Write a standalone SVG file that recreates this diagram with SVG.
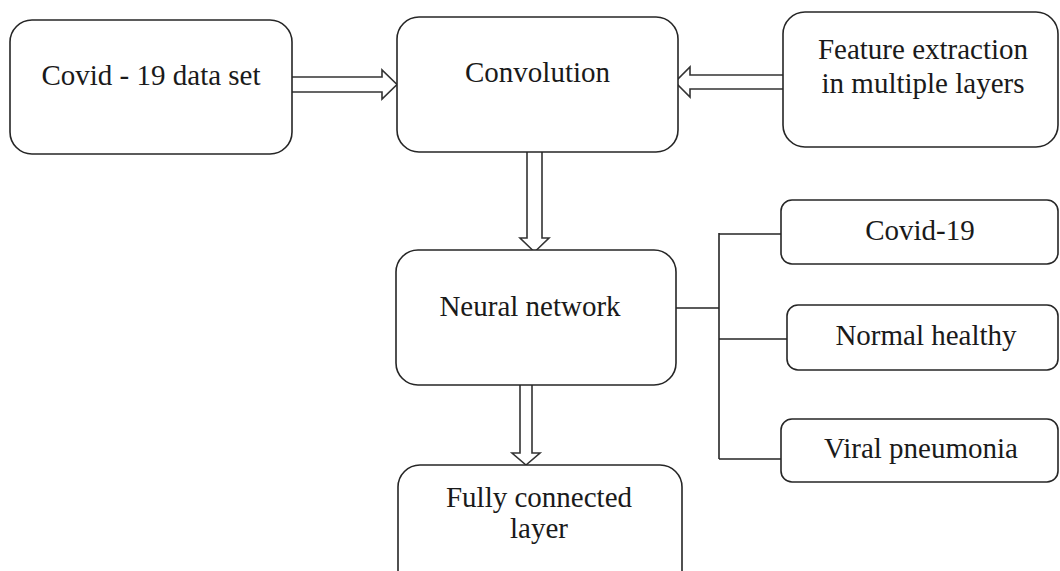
<svg xmlns="http://www.w3.org/2000/svg" width="1060" height="571" viewBox="0 0 1060 571">
<style>
.box{fill:#fff;stroke:#262626;stroke-width:1.6}
.lbl{font-family:'Liberation Serif','Times New Roman',serif;font-size:29px;fill:#1a1a1a;text-anchor:middle}
.blk{fill:#fff;stroke:#333;stroke-width:1.6;stroke-linejoin:miter}
.ln{fill:none;stroke:#262626;stroke-width:1.6}
</style>
<rect width="1060" height="571" fill="#fff"/>
<g id="connectors">
<path class="blk" d="M292,77 H382 V70 L397,84.5 L382,99 V92 H292"/>
<path class="blk" d="M783,75 H690 V67 L675,82 L690,97 V89 H783"/>
<path class="blk" d="M527,152 V238 H520 L534.5,252 L549,238 H542 V152"/>
<path class="blk" d="M520,385 V453 H512 L526,465 L540,453 H532 V385"/>
<path class="ln" d="M676,308 H719 M719,233 V459 M719,234 H781 M719,339 H787 M719,459 H781"/>
</g>
<g id="n-dataset">
<rect class="box" x="10" y="20" width="282" height="134" rx="22"/>
<text class="lbl" x="151" y="85">Covid - 19 data set</text>
</g>
<g id="n-convolution">
<rect class="box" x="397" y="17" width="281" height="135" rx="22"/>
<text class="lbl" x="537.5" y="82">Convolution</text>
</g>
<g id="n-feature">
<rect class="box" x="783" y="12" width="275" height="135" rx="22"/>
<text class="lbl" x="923" y="59">Feature extraction</text>
<text class="lbl" x="923" y="93">in multiple layers</text>
</g>
<g id="n-neural">
<rect class="box" x="396" y="250" width="280" height="135" rx="22"/>
<text class="lbl" x="530" y="316">Neural network</text>
</g>
<g id="n-covid19">
<rect class="box" x="781" y="200" width="277" height="64" rx="11"/>
<text class="lbl" x="920" y="240">Covid-19</text>
</g>
<g id="n-normal">
<rect class="box" x="787" y="305" width="271" height="65" rx="11"/>
<text class="lbl" x="926" y="345">Normal healthy</text>
</g>
<g id="n-viral">
<rect class="box" x="781" y="419" width="277" height="63" rx="11"/>
<text class="lbl" x="921" y="458">Viral pneumonia</text>
</g>
<g id="n-fully">
<rect class="box" x="398" y="465" width="284" height="130" rx="22"/>
<text class="lbl" x="539" y="507">Fully connected</text>
<text class="lbl" x="539" y="538">layer</text>
</g>
</svg>
